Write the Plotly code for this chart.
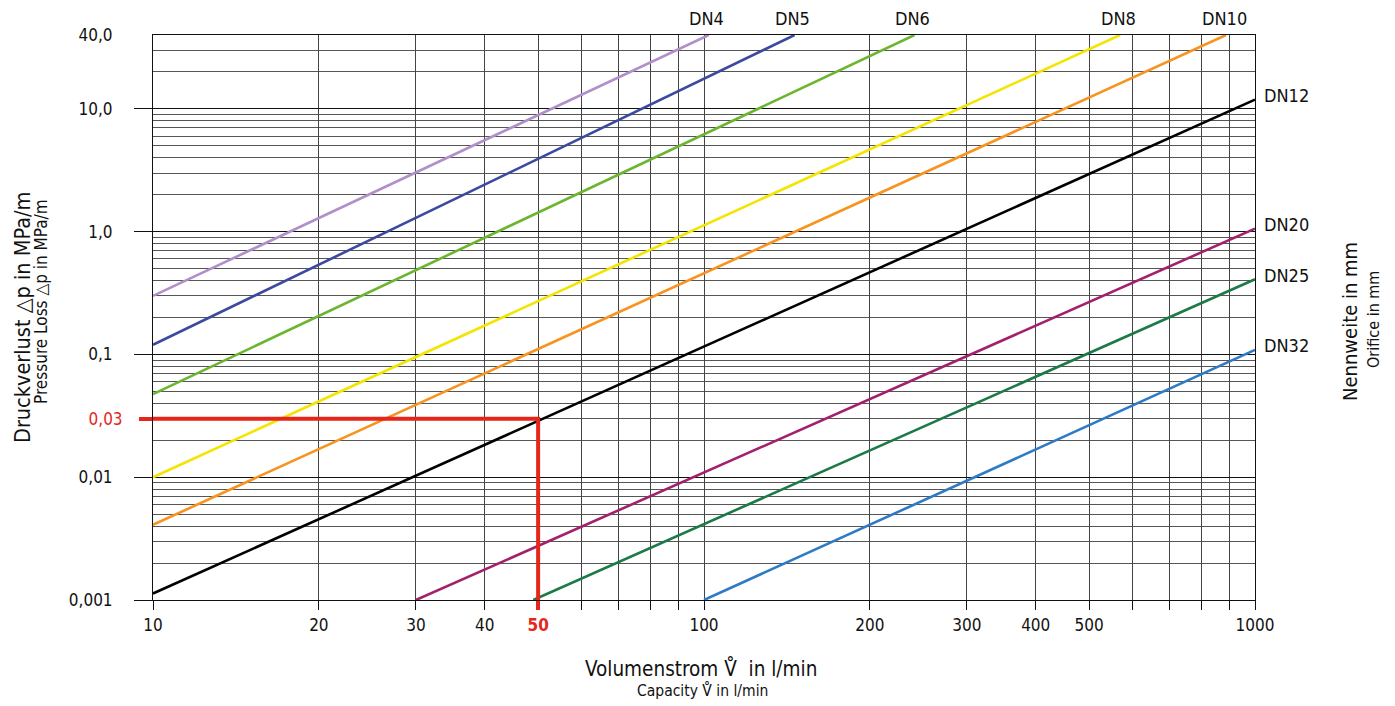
import math
import plotly.graph_objects as go

# ---- data -------------------------------------------------------------
series_names = ["DN4", "DN5", "DN6", "DN8", "DN10", "DN12", "DN20", "DN25", "DN32"]
flow_start = [10, 10, 10, 10, 10, 10, 30, 49, 100]          # l/min
dp_start = [0.30, 0.12, 0.0475, 0.010, 0.0041, 0.00113, 0.001, 0.001, 0.001]  # MPa/m
flow_end = [102, 146, 241, 569, 886, 1000, 1000, 1000, 1000]
dp_end = [40, 40, 40, 40, 40, 11.9, 1.06, 0.41, 0.109]
series_colors = ["#b08fca", "#3b4a9e", "#6cb52f", "#f4e500", "#f7931e",
                 "#000000", "#a3206c", "#1b7a47", "#2e7ac4"]

example_flow = 50
example_dp = 0.03

x_grid = [10, 20, 30, 40, 50, 60, 70, 80, 90, 100, 200, 300, 400, 500,
          600, 700, 800, 900, 1000]
x_labels = ["10", "20", "30", "40", "", "", "", "", "", "100", "200", "300",
            "400", "500", "", "", "", "", "1000"]
y_major = [0.001, 0.01, 0.1, 1, 10]
y_major_labels = ["0,001", "0,01", "0,1", "1,0", "10,0"]
y_top = 40
y_top_label = "40,0"
y_minor = [m * d for d in [0.001, 0.01, 0.1, 1] for m in range(2, 10)] + [20, 30]

FONT = "Liberation Sans Narrow, DejaVu Sans Condensed, Arial Narrow, sans-serif"
RED = "#e4261b"

# page body has an 8px margin: figure is sized/offset to compensate
W, H = 1387, 698
ML, MR, MT, MB = 145, 140, 27, 106
PW, PH = W - ML - MR, H - MT - MB

fig = go.Figure()

for i, (name, x0, y0, x1, y1, c) in enumerate(zip(series_names, flow_start, dp_start,
                                                  flow_end, dp_end, series_colors)):
    # the first line is drawn on the overlay axis that carries the "40,0" label
    # (identical range) so that this axis is rendered
    fig.add_trace(go.Scatter(x=[x0, x1], y=[y0, y1], mode="lines",
                             line=dict(color=c, width=2.6), name=name,
                             showlegend=False, hoverinfo="skip",
                             yaxis="y3" if i == 0 else "y"))

# red example reading
fig.add_trace(go.Scatter(x=[flow_start[0], example_flow, example_flow],
                         y=[example_dp, example_dp, dp_start[-1]],
                         mode="lines", line=dict(color=RED, width=4),
                         showlegend=False, hoverinfo="skip",
                         xaxis="x2", yaxis="y2"))

# labels of the nominal sizes, at the end of each line
for name, x1, y1 in zip(series_names, flow_end, dp_end):
    top = y1 >= y_top
    fig.add_annotation(
        x=math.log10(x1), y=math.log10(y1), xref="x", yref="y",
        text=name, showarrow=False,
        font=dict(family=FONT, size=18, color="#111"),
        xanchor="center" if top else "left",
        yanchor="bottom" if top else "middle",
        xshift=-2 if top else 7, yshift=4 if top else 4)

xr = [1, 3]
yr = [-3, math.log10(y_top)]

fig.update_layout(
    width=W, height=H,
    margin=dict(l=ML, r=MR, t=MT, b=MB),
    paper_bgcolor="white", plot_bgcolor="white",
    font=dict(family=FONT, size=17, color="#111"),
    xaxis=dict(type="log", range=xr, tickvals=x_grid, ticktext=x_labels,
               showgrid=True, gridcolor="#444", gridwidth=1,
               ticks="outside", ticklen=9, tickcolor="#111", tickwidth=1,
               ticklabelstandoff=1,
               showline=True, linecolor="#111", linewidth=1, mirror=True,
               zeroline=False, tickfont=dict(size=17)),
    xaxis2=dict(type="log", range=xr, overlaying="x", anchor="y", side="bottom",
                tickvals=[example_flow], ticktext=["<b>50</b>"],
                tickfont=dict(color=RED, size=17),
                ticks="outside", ticklen=9, tickcolor=RED, tickwidth=4,
                ticklabelstandoff=1,
                showgrid=False, showline=False, zeroline=False),
    yaxis=dict(type="log", range=yr, tickvals=y_major, ticktext=y_major_labels,
               showgrid=True, gridcolor="#111", gridwidth=1,
               minor=dict(tickvals=y_minor, showgrid=True, gridcolor="#555",
                          gridwidth=1, ticks=""),
               ticks="outside", ticklen=18, tickcolor="#111", tickwidth=1,
               ticklabelstandoff=18,
               showline=True, linecolor="#111", linewidth=1, mirror=True,
               zeroline=False, tickfont=dict(size=17)),
    yaxis2=dict(type="log", range=yr, overlaying="y", anchor="x", side="left",
                tickvals=[example_dp], ticktext=["0,03"],
                tickfont=dict(color=RED, size=17),
                ticks="outside", ticklen=13, tickcolor=RED, tickwidth=4,
                ticklabelstandoff=13,
                showgrid=False, showline=False, zeroline=False),
    yaxis3=dict(type="log", range=yr, overlaying="y", anchor="x", side="left",
                tickvals=[y_top], ticktext=[y_top_label],
                tickfont=dict(size=17),
                ticks="outside", ticklen=18, tickcolor="rgba(0,0,0,0)",
                ticklabelstandoff=18,
                showgrid=False, showline=False, zeroline=False),
)


def px_to_paper(wx, wy):
    return (wx - 8 - ML) / PW, 1 - (wy - 8 - MT) / PH


texts = [
    dict(text="Volumenstrom V\u030a  in l/min", x=701, y=668, size=20.5, angle=0),
    dict(text="Capacity V\u030a in l/min", x=702, y=690, size=15.5, angle=0),
    dict(text="Druckverlust \u25b3p in MPa/m", x=22, y=318, size=21.5, angle=-90),
    dict(text="Pressure Loss \u25b3p in MPa/m", x=41, y=302, size=17, angle=-90),
    dict(text="Nennweite in mm", x=1350, y=322, size=20, angle=-90),
    dict(text="Orifice in mm", x=1373, y=320, size=16, angle=-90),
]
for a in texts:
    px, py = px_to_paper(a["x"], a["y"])
    fig.add_annotation(text=a["text"], xref="paper", yref="paper",
                       x=px, y=py, textangle=a["angle"], showarrow=False,
                       font=dict(family=FONT, size=a["size"], color="#111"),
                       xanchor="center", yanchor="middle")

fig.write_html("out.html")
